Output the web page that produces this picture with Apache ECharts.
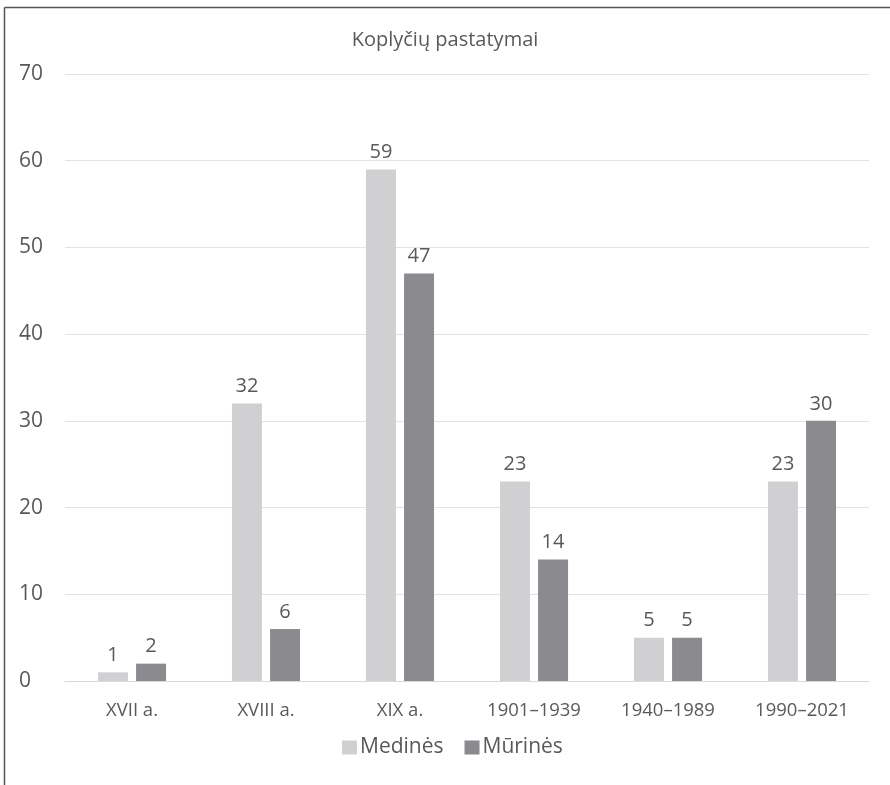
<!DOCTYPE html>
<html><head><meta charset="utf-8">
<script src="https://cdn.jsdelivr.net/npm/echarts@6/dist/echarts.min.js"></script>
<style>html,body{margin:0;padding:0;background:#fff}#c{width:890px;height:785px}</style>
</head><body><div id="c"></div>
<script>
const categories = ['XVII a.', 'XVIII a.', 'XIX a.', '1901–1939', '1940–1989', '1990–2021'];
const medines = [1, 32, 59, 23, 5, 23];
const murines = [2, 6, 47, 14, 5, 30];
const seriesNames = ['Medinės', 'Mūrinės'];
const titleText = 'Koplyčių pastatymai';

const FONT = '"Open Sans", sans-serif';
const TXT = '#595959';
const chart = echarts.init(document.getElementById('c'), null, {renderer: 'canvas'});
chart.setOption({
  animation: false,
  backgroundColor: '#fff',
  title: {text: titleText, left: 'center', top: 25, textStyle: {fontFamily: FONT, fontWeight: 'normal', fontSize: 20, color: TXT}},
  legend: {top: 732, left: 337, itemWidth: 15, itemHeight: 14, itemGap: 21, icon: 'rect',
    textStyle: {fontFamily: FONT, fontSize: 21, color: TXT, padding: [0, 0, 0, -2]}},
  grid: {left: 65, right: 21, top: 74, bottom: 104},
  xAxis: {type: 'category', data: categories,
    axisLine: {lineStyle: {color: '#d9d9d9'}}, axisTick: {show: false},
    axisLabel: {fontFamily: FONT, fontSize: 18.5, color: TXT, margin: 20}},
  yAxis: {type: 'value', min: 0, max: 70, interval: 10,
    axisLine: {show: false}, axisTick: {show: false},
    splitLine: {lineStyle: {color: '#e3e3e3'}},
    axisLabel: {fontFamily: FONT, fontSize: 21, color: TXT, align: 'left', margin: 46}},
  series: [
    {name: seriesNames[0], type: 'bar', data: medines, barWidth: 30, barGap: '27%',
      itemStyle: {color: '#d0d0d2'},
      label: {show: true, position: 'top', distance: 7, fontFamily: FONT, fontSize: 20, color: TXT}},
    {name: seriesNames[1], type: 'bar', data: murines, barWidth: 30,
      itemStyle: {color: '#8b8a8e'},
      label: {show: true, position: 'top', distance: 7, fontFamily: FONT, fontSize: 20, color: TXT}}
  ],
  graphic: [
    {type: 'line', shape: {x1: 4.5, y1: 7.5, x2: 890, y2: 7.5}, style: {stroke: '#555', lineWidth: 1.5}},
    {type: 'line', shape: {x1: 4.5, y1: 7.5, x2: 4.5, y2: 785}, style: {stroke: '#555', lineWidth: 1.5}}
  ]
});
</script></body></html>
